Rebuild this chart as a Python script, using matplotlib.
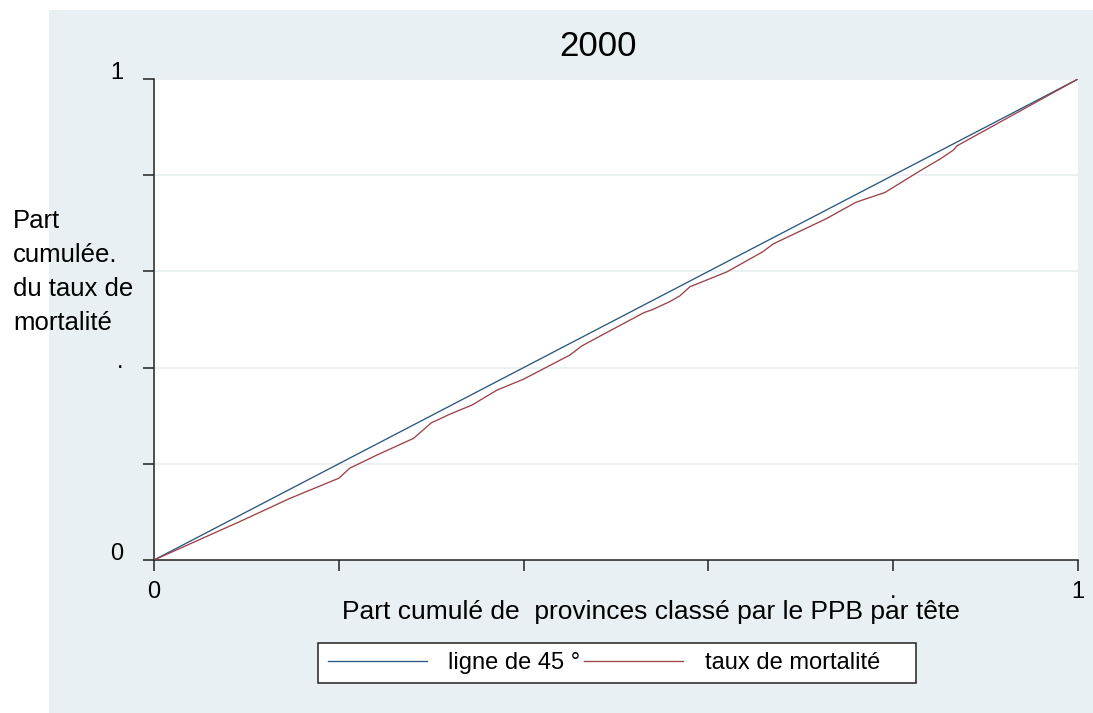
import numpy as np
import matplotlib
matplotlib.use("Agg")
import matplotlib.pyplot as plt
from matplotlib.patches import Rectangle

plt.rcParams['font.family'] = ['Liberation Sans', 'DejaVu Sans']

# ligne de 45 degres
diag_x = [0.0, 0.25, 0.5, 0.75, 1.0]
diag_y = [0.0, 0.25, 0.5, 0.75, 1.0]

# courbe de concentration du taux de mortalite
part_prov = [0.0, 0.093, 0.147, 0.200, 0.212, 0.241, 0.281, 0.300, 0.320, 0.344,
             0.371, 0.400, 0.429, 0.450, 0.463, 0.490, 0.530, 0.540, 0.558, 0.569,
             0.580, 0.620, 0.659, 0.670, 0.728, 0.760, 0.791, 0.829, 0.851, 0.865,
             0.869, 1.0]
part_mort = [0.0, 0.080, 0.128, 0.170, 0.191, 0.218, 0.253, 0.285, 0.303, 0.322,
             0.353, 0.376, 0.405, 0.426, 0.445, 0.473, 0.514, 0.521, 0.537, 0.549,
             0.568, 0.599, 0.641, 0.657, 0.710, 0.744, 0.764, 0.809, 0.834, 0.852,
             0.861, 1.0]

x_ticks = [0, 0.2, 0.4, 0.6, 0.8, 1]
x_labels = ['0', '', '', '', '.', '1']
y_ticks = [0, 0.2, 0.4, 0.6, 0.8, 1]
y_labels = ['0', '', '.', '', '', '1']

W, H = 1093, 713
fig = plt.figure(figsize=(W / 100, H / 100), dpi=100, facecolor='white')
bg = '#e8f0f3'
fig.patches.append(Rectangle((49 / W, 0), 1 - 49 / W, (H - 10) / H,
                             transform=fig.transFigure, facecolor=bg,
                             edgecolor='none', zorder=-10))

ax = fig.add_axes([154 / W, (H - 560) / H, (1078 - 154) / W, (560 - 79) / H])
ax.set_facecolor('white')

for g in [0.2, 0.4, 0.6, 0.8, 1.0]:
    ax.axhline(g, color='#e8eff1', lw=1.2, zorder=1)

ax.plot(diag_x, diag_y, color='#2b5782', lw=0.95, label='ligne de 45 °', zorder=3)
ax.plot(part_prov, part_mort, color='#9c4148', lw=0.95, label='taux de mortalité    ', zorder=3)

ax.set_xlim(0, 1)
ax.set_ylim(0, 1)
for s in ['top', 'right']:
    ax.spines[s].set_visible(False)
for s in ['left', 'bottom']:
    ax.spines[s].set_color('#222222')
    ax.spines[s].set_linewidth(1.1)

ax.set_xticks(x_ticks)
ax.set_xticklabels(x_labels, fontsize=17)
ax.set_yticks(y_ticks)
ax.set_yticklabels(y_labels, fontsize=17, va='baseline')
ax.tick_params(axis='x', length=8, width=1.1, color='#222222', pad=7)
ax.tick_params(axis='y', length=8, width=1.1, color='#222222', pad=14)

fig.text(598 / W, (H - 47) / H, '2000', fontsize=25, ha='center', va='center')
fig.text(651 / W, (H - 612) / H, 'Part cumulé de  provinces classé par le PPB par tête',
         fontsize=19, ha='center', va='center')
fig.text(13 / W, (H - 209) / H, 'Part\ncumulée.\ndu taux de\nmortalité',
         fontsize=18.5, ha='left', va='top', linespacing=1.53)

leg = ax.legend(loc='center', bbox_to_anchor=(617 / W, (H - 663) / H),
                bbox_transform=fig.transFigure, ncol=2, fontsize=17,
                handlelength=4.2, handletextpad=0.9, columnspacing=0.17,
                borderpad=0.4, fancybox=False, framealpha=1, edgecolor='#222222')
leg.get_frame().set_linewidth(1.1)

fig.savefig('out.png', dpi=100, facecolor='white')
